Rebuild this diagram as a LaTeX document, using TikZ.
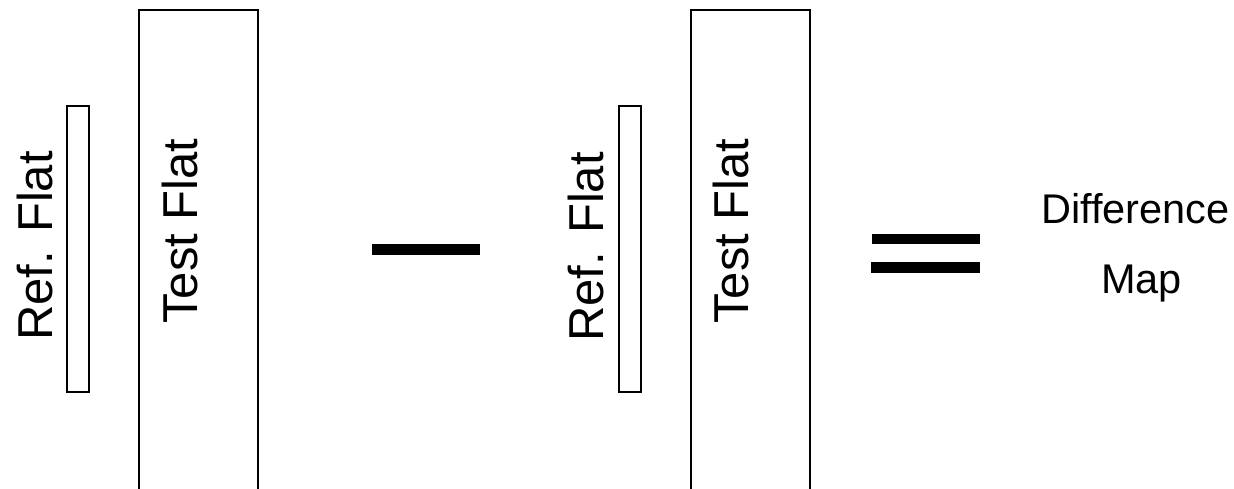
\documentclass[tikz,border=0pt]{standalone}
\usepackage{fontspec}
\setmainfont{Liberation Sans}
\tikzset{
  flatbox/.style={draw=black, line width=2.5pt, fill=white, inner sep=0pt, outer sep=0pt},
  flatlabel/.style={rotate=90, anchor=base, inner sep=0pt, font=\fontsize{49}{58}\selectfont},
  maplabel/.style={anchor=base, inner sep=0pt, font=\fontsize{41.5}{50}\selectfont},
  opbar/.style={fill=black, draw=none, inner sep=0pt, outer sep=0pt}
}
\begin{document}
\begin{tikzpicture}[x=1pt, y=-1pt]
  \useasboundingbox (0,0) rectangle (1234,488);
  \clip (0,0) rectangle (1234,488);

  % first pair of flats
  \node[flatbox, minimum width=22pt, minimum height=286pt] (ref1) at (78,249) {};
  \node[flatbox, minimum width=119pt, minimum height=500pt] (test1) at (198.5,260) {};
  \node[flatlabel] (reflabel1) at (52,246) {Ref. Flat};
  \node[flatlabel] (testlabel1) at (197,231) {Test Flat};

  % minus sign
  \node[opbar, minimum width=108pt, minimum height=11pt] (minus) at (426,249.5) {};

  % second pair of flats
  \node[flatbox, minimum width=22pt, minimum height=286pt] (ref2) at (630,249) {};
  \node[flatbox, minimum width=119pt, minimum height=500pt] (test2) at (750.5,260) {};
  \node[flatlabel] (reflabel2) at (603,247) {Ref. Flat};
  \node[flatlabel] (testlabel2) at (748,231) {Test Flat};

  % equals sign
  \node[opbar, minimum width=108pt, minimum height=10.5pt] (eqtop) at (926,239) {};
  \node[opbar, minimum width=109pt, minimum height=10.5pt] (eqbot) at (925.5,267.5) {};

  % result
  \node[maplabel] (diff) at (1135.5,223) {Difference};
  \node[maplabel] (map) at (1141.5,293) {Map};
\end{tikzpicture}
\end{document}
